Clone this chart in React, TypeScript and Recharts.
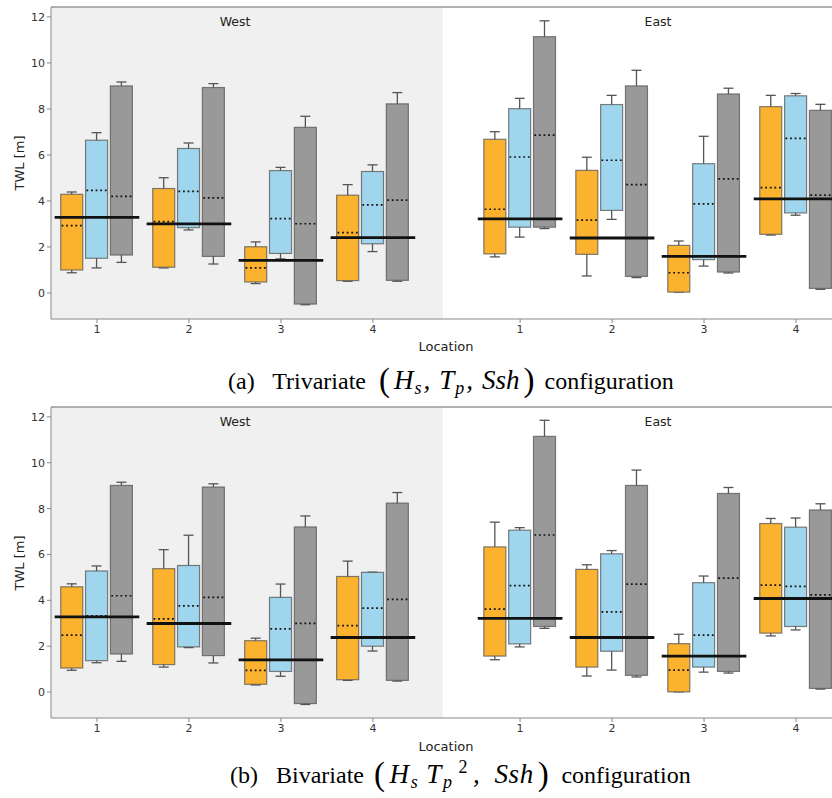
import React from 'react';
import { ComposedChart, Bar, XAxis, YAxis, ReferenceLine, ReferenceArea } from 'recharts';

// x positions: West 1-4, then East 1-4
const X_POS = [1, 2, 3, 4, 5.6, 6.6, 7.6, 8.6];
const X_LABELS = ['1', '2', '3', '4', '1', '2', '3', '4'];
const Y_TICKS = [0, 2, 4, 6, 8, 10, 12];
const Y_DOMAIN: [number, number] = [-1.13, 12.43];
const GROUP_OFFSET = [-0.27, 0, 0.27];
const GROUP_COLORS = ['#fbb22e', '#9fd6ed', '#999999'];

// each box: [whiskerLow, q1, mean, q3, whiskerHigh]
const triOrange = [
  [0.88, 1.0, 2.93, 4.29, 4.39],
  [1.09, 1.12, 3.1, 4.54, 5.01],
  [0.41, 0.48, 1.09, 2.01, 2.22],
  [0.51, 0.54, 2.62, 4.25, 4.71],
  [1.57, 1.7, 3.64, 6.68, 7.01],
  [0.74, 1.68, 3.17, 5.33, 5.9],
  [0.04, 0.04, 0.88, 2.07, 2.26],
  [2.52, 2.55, 4.58, 8.1, 8.59],
];
const triBlue = [
  [1.09, 1.51, 4.46, 6.64, 6.97],
  [2.74, 2.84, 4.42, 6.28, 6.52],
  [1.48, 1.72, 3.23, 5.32, 5.46],
  [1.8, 2.14, 3.83, 5.28, 5.57],
  [2.43, 2.86, 5.91, 8.01, 8.46],
  [3.2, 3.59, 5.77, 8.19, 8.59],
  [1.17, 1.45, 3.87, 5.62, 6.81],
  [3.38, 3.48, 6.72, 8.57, 8.67],
];
const triGray = [
  [1.33, 1.65, 4.2, 9.0, 9.17],
  [1.26, 1.59, 4.13, 8.93, 9.1],
  [-0.51, -0.48, 3.01, 7.2, 7.68],
  [0.51, 0.55, 4.04, 8.22, 8.71],
  [2.8, 2.86, 6.86, 11.14, 11.83],
  [0.67, 0.72, 4.71, 9.0, 9.68],
  [0.87, 0.91, 4.96, 8.65, 8.9],
  [0.16, 0.2, 4.25, 7.94, 8.2],
];
const triObserved = [3.29, 3.0, 1.42, 2.41, 3.22, 2.39, 1.59, 4.09];

const biOrange = [
  [0.95, 1.05, 2.48, 4.59, 4.72],
  [1.09, 1.2, 3.19, 5.38, 6.21],
  [0.31, 0.34, 0.95, 2.24, 2.35],
  [0.51, 0.54, 2.9, 5.04, 5.71],
  [1.41, 1.57, 3.62, 6.33, 7.41],
  [0.7, 1.09, 2.38, 5.35, 5.55],
  [0.01, 0.01, 0.96, 2.11, 2.52],
  [2.45, 2.57, 4.66, 7.35, 7.57],
];
const biBlue = [
  [1.28, 1.37, 3.32, 5.28, 5.5],
  [1.94, 1.97, 3.76, 5.52, 6.84],
  [0.69, 0.9, 2.76, 4.13, 4.71],
  [1.79, 2.0, 3.66, 5.22, 5.23],
  [1.97, 2.1, 4.64, 7.06, 7.17],
  [0.96, 1.78, 3.5, 6.03, 6.17],
  [0.87, 1.09, 2.48, 4.77, 5.06],
  [2.71, 2.86, 4.61, 7.19, 7.59],
];
const biGray = [
  [1.34, 1.66, 4.2, 9.01, 9.15],
  [1.27, 1.59, 4.13, 8.94, 9.08],
  [-0.54, -0.5, 3.0, 7.2, 7.68],
  [0.48, 0.51, 4.04, 8.24, 8.7],
  [2.78, 2.86, 6.85, 11.15, 11.85],
  [0.66, 0.73, 4.71, 9.01, 9.68],
  [0.83, 0.9, 4.97, 8.66, 8.92],
  [0.13, 0.16, 4.24, 7.94, 8.21],
];
const biObserved = [3.28, 2.99, 1.4, 2.38, 3.21, 2.38, 1.57, 4.08];

type Row = { x: number; group: number; whisker: number[]; box: number[]; mean: number };

function buildRows(groups: number[][][]): Row[] {
  const rows: Row[] = [];
  X_POS.forEach((pos, i) => {
    groups.forEach((g, gi) => {
      const s = g[i];
      rows.push({ x: pos + GROUP_OFFSET[gi], group: gi, whisker: [s[0], s[4]], box: [s[1], s[3]], mean: s[2] });
    });
  });
  return rows;
}

const WhiskerShape = (props: any) => {
  const { x, y, width, height } = props;
  const cx = x + width / 2;
  const top = Math.min(y, y + height);
  const bottom = Math.max(y, y + height);
  return (
    <g stroke="#555" strokeWidth={1.3}>
      <line x1={cx} x2={cx} y1={top} y2={bottom} />
      <line x1={cx - 5} x2={cx + 5} y1={top} y2={top} />
      <line x1={cx - 5} x2={cx + 5} y1={bottom} y2={bottom} />
    </g>
  );
};

const BoxShape = (props: any) => {
  const { x, y, width, height, payload } = props;
  const top = Math.min(y, y + height);
  return (
    <rect
      x={x}
      y={top}
      width={width}
      height={Math.abs(height)}
      fill={GROUP_COLORS[payload.group]}
      stroke="#555"
      strokeOpacity={0.75}
      strokeWidth={1.2}
    />
  );
};

const tickStyle = { fontSize: 11, fill: '#333', fontFamily: 'DejaVu Sans' };

function BoxPanel({ groups, observed, height }: { groups: number[][][]; observed: number[]; height: number }) {
  const rows = buildRows(groups);
  return (
    <ComposedChart width={846} height={height} data={rows} margin={{ top: 7, right: 4, bottom: 6, left: 0 }}>
      <ReferenceArea
        xAxisId="main"
        x1={0.5}
        x2={4.76}
        y1={Y_DOMAIN[0]}
        y2={Y_DOMAIN[1]}
        fill="#f0f0f0"
        fillOpacity={1}
        stroke="none"
        ifOverflow="visible"
        zIndex={-50}
      />
      <XAxis
        xAxisId="main"
        type="number"
        dataKey="x"
        domain={[0.5, 9.1]}
        ticks={X_POS}
        tickFormatter={(v: number) => X_LABELS[X_POS.indexOf(v)] ?? ''}
        allowDataOverflow
        height={20}
        tick={tickStyle}
        stroke="#888"
        tickSize={4}
      />
      <XAxis xAxisId="wh" type="number" dataKey="x" domain={[0.5, 9.1]} allowDataOverflow hide />
      <YAxis
        type="number"
        domain={Y_DOMAIN}
        ticks={Y_TICKS}
        allowDataOverflow
        width={51}
        tick={tickStyle}
        stroke="#888"
        tickSize={4}
      />
      <ReferenceLine xAxisId="main" y={Y_DOMAIN[1]} stroke="#999" strokeWidth={1.5} ifOverflow="visible" />
      <Bar xAxisId="wh" dataKey="whisker" barSize={22} shape={WhiskerShape} isAnimationActive={false} />
      <Bar xAxisId="main" dataKey="box" barSize={22} shape={BoxShape} isAnimationActive={false} />
      {rows.map((r, i) => (
        <ReferenceLine
          key={`m${i}`}
          xAxisId="main"
          segment={[{ x: r.x - 0.115, y: r.mean }, { x: r.x + 0.115, y: r.mean }]}
          stroke="#111"
          strokeWidth={1.7}
          strokeDasharray="1.8 2.8"
          ifOverflow="visible"
          zIndex={700}
        />
      ))}
      {observed.map((v, i) => (
        <ReferenceLine
          key={`o${i}`}
          xAxisId="main"
          segment={[{ x: X_POS[i] - 0.46, y: v }, { x: X_POS[i] + 0.46, y: v }]}
          stroke="#111"
          strokeWidth={2.8}
          ifOverflow="visible"
          zIndex={710}
        />
      ))}
    </ComposedChart>
  );
}

const sans: React.CSSProperties = { position: 'absolute', fontFamily: 'DejaVu Sans', color: '#222', whiteSpace: 'nowrap' };
const centered = 'translate(-50%, -50%)';

function PanelLabels({ top }: { top: number }) {
  return (
    <>
      <div style={{ ...sans, left: 235, top: top + 21, fontSize: 12.5, transform: centered }}>West</div>
      <div style={{ ...sans, left: 658, top: top + 21, fontSize: 12.5, transform: centered }}>East</div>
      <div style={{ ...sans, left: 446, top: top + 346, fontSize: 13, transform: centered }}>Location</div>
      <div style={{ ...sans, left: 19, top: top + 163, fontSize: 13, transform: `${centered} rotate(-90deg)` }}>TWL [m]</div>
    </>
  );
}

const serif: React.CSSProperties = {
  position: 'absolute',
  fontFamily: '"Liberation Serif", "Times New Roman", serif',
  fontSize: 24,
  color: '#000',
  whiteSpace: 'nowrap',
  lineHeight: 1,
};
const math: React.CSSProperties = { fontSize: 27, fontStyle: 'italic', display: 'inline-block', margin: '0 6px 0 9px' };
const paren: React.CSSProperties = { fontSize: 33, fontStyle: 'normal', display: 'inline-block', transform: 'translateY(2px)', margin: '0 4px' };
const sub: React.CSSProperties = { fontSize: 18, fontStyle: 'italic', display: 'inline-block', transform: 'translateY(5px)', margin: '0 2px 0 1px' };
const gap: React.CSSProperties = { display: 'inline-block', width: 9 };

export default function App() {
  return (
    <div style={{ position: 'absolute', left: 0, top: 0, width: 832, height: 798, overflow: 'hidden', background: '#fff' }}>
      <div style={{ position: 'absolute', left: 0, top: 0 }}>
        <BoxPanel groups={[triOrange, triBlue, triGray]} observed={triObserved} height={345} />
      </div>
      <div style={{ position: 'absolute', left: 0, top: 400 }}>
        <BoxPanel groups={[biOrange, biBlue, biGray]} observed={biObserved} height={344} />
      </div>
      <PanelLabels top={0} />
      <PanelLabels top={400} />
      <div style={{ ...serif, left: 228, top: 362 }}>
        (a)&nbsp;&nbsp; Trivariate
        <span style={math}>
          <span style={paren}>(</span>H<span style={sub}>s</span>,<span style={gap} />T<span style={sub}>p</span>,
          <span style={gap} />Ssh<span style={paren}>)</span>
        </span>
        configuration
      </div>
      <div style={{ ...serif, left: 230, top: 756 }}>
        (b)&nbsp;&nbsp; Bivariate
        <span style={{ ...math, margin: '0 8px 0 6px', letterSpacing: 0.6 }}>
          <span style={paren}>(</span>H<span style={sub}>s</span>
          <span style={{ display: 'inline-block', width: 6 }} />T<span style={sub}>p</span>
          <span style={{ fontSize: 18, fontStyle: 'normal', display: 'inline-block', transform: 'translateY(-10px)', margin: '0 5px 0 4px' }}>2</span>,
          <span style={{ display: 'inline-block', width: 14 }} />Ssh<span style={paren}>)</span>
        </span>
        configuration
      </div>
    </div>
  );
}
